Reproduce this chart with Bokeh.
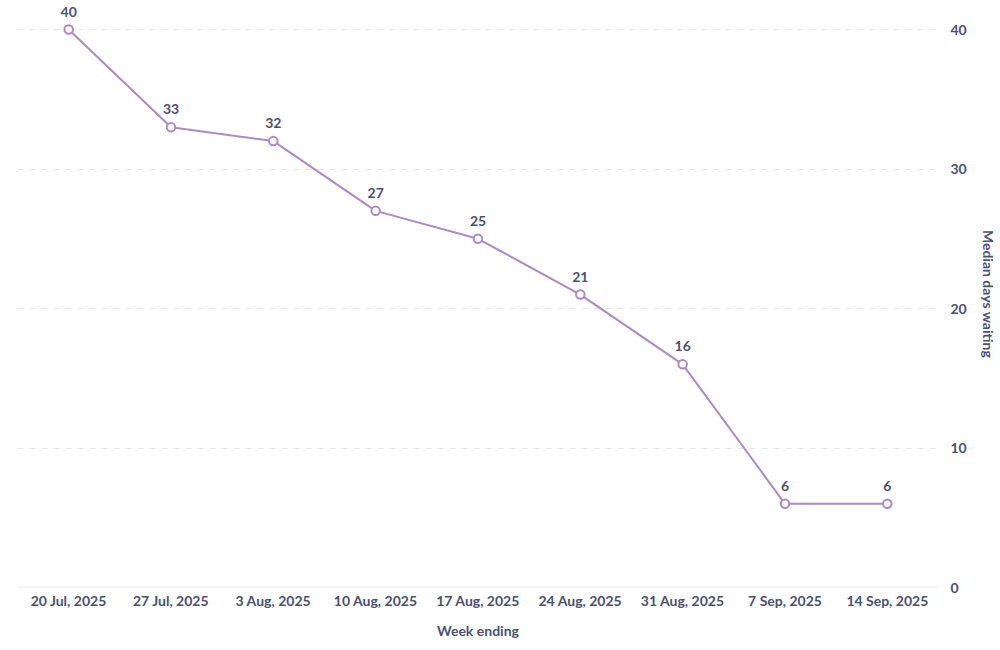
from bokeh.plotting import figure
from bokeh.models import ColumnDataSource, Span, Range1d, FactorRange
from bokeh.core.properties import value
from bokeh.embed import file_html
from bokeh.resources import INLINE

weeks = ["20 Jul, 2025", "27 Jul, 2025", "3 Aug, 2025", "10 Aug, 2025", "17 Aug, 2025",
         "24 Aug, 2025", "31 Aug, 2025", "7 Sep, 2025", "14 Sep, 2025"]
median_days = [40, 33, 32, 27, 25, 21, 16, 6, 6]
y_ticks = [0, 10, 20, 30, 40]

TEXT = "#4a5170"
LINE = "#a98bc9"
FONT = "Lato"

src = ColumnDataSource(dict(x=weeks, y=median_days, lbl=[str(v) for v in median_days]))

p = figure(frame_width=921, frame_height=587, x_range=FactorRange(*weeks), y_range=Range1d(0, 42.08),
           output_backend="svg", toolbar_location=None, y_axis_location="right",
           min_border_left=17, min_border_top=0, min_border_bottom=0, min_border_right=0)
p.outline_line_color = None
p.background_fill_color = "white"
p.border_fill_color = "white"

p.xgrid.grid_line_color = None
p.ygrid.grid_line_color = "#e6e6e6"
p.ygrid.grid_line_dash = "6 6"
p.ygrid.grid_line_width = 1
p.yaxis.ticker = y_ticks

p.add_layout(Span(location=0, dimension="width", line_color="#e6e6e6", line_width=1.5))

for ax in (p.xaxis[0], p.yaxis[0]):
    ax.axis_line_color = None
    ax.major_tick_line_color = None
    ax.minor_tick_line_color = None
    ax.major_tick_out = 0
    ax.major_tick_in = 0
    ax.minor_tick_out = 0
    ax.minor_tick_in = 0
    ax.major_label_text_font = FONT
    ax.major_label_text_font_style = "bold"
    ax.major_label_text_font_size = "14px"
    ax.major_label_text_color = TEXT
    ax.axis_label_text_font = FONT
    ax.axis_label_text_font_style = "bold"
    ax.axis_label_text_font_size = "14px"
    ax.axis_label_text_color = TEXT

p.xaxis.axis_label = "Week ending"
p.yaxis.axis_label = "Median days waiting"
p.xaxis.major_label_standoff = 4
p.xaxis.axis_label_standoff = 10
p.yaxis.major_label_standoff = 12
p.yaxis.axis_label_standoff = 10

p.line("x", "y", source=src, line_color=LINE, line_width=2)
p.scatter("x", "y", source=src, size=8.5, fill_color="white", line_color=LINE, line_width=2)
p.text("x", "y", text="lbl", source=src, text_font=value(FONT), text_font_style="bold",
       text_font_size="14px", text_color=TEXT, text_align="center", text_baseline="bottom",
       y_offset=-13)

open("out.html", "w").write(file_html(p, INLINE))
